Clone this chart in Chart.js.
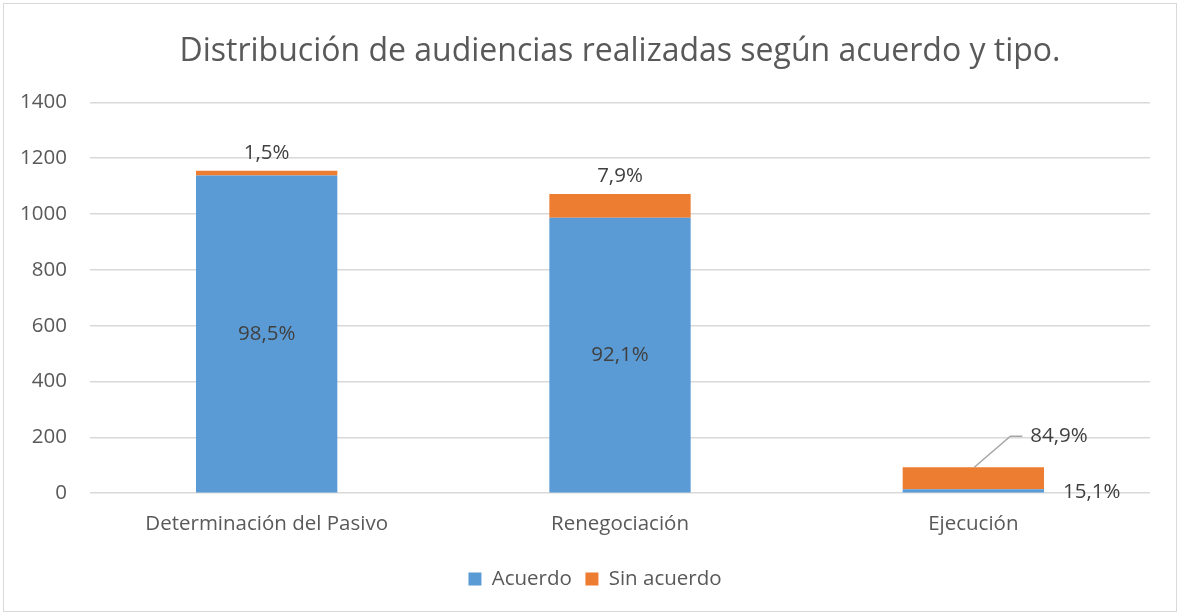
<!DOCTYPE html>
<html lang="es">
<head>
<meta charset="utf-8">
<title>Distribución de audiencias</title>
<script src="https://cdn.jsdelivr.net/npm/chart.js@4/dist/chart.umd.min.js"></script>
<style>
  html, body { margin: 0; padding: 0; background: #fff; }
  .chart-box { position: absolute; left: 0; top: 0; width: 1180px; height: 615px; }
</style>
</head>
<body>
<div class="chart-box"><canvas id="audiencias-chart" width="1180" height="615"></canvas></div>
<script>
// categories and values
const categories = ["Determinación del Pasivo", "Renegociación", "Ejecución"];
const acuerdo = [1138, 987, 14];
const sinAcuerdo = [17, 85, 79];
const acuerdoLabels = ["98,5%", "92,1%", "15,1%"];
const sinAcuerdoLabels = ["1,5%", "7,9%", "84,9%"];
const yTicks = [0, 200, 400, 600, 800, 1000, 1200, 1400];

const FONT = "'Open Sans', 'Noto Sans', sans-serif";
const SMALL = 20.5;

// light frame around the whole chart
const framePlugin = {
  id: "frame",
  beforeDraw(chart) {
    const ctx = chart.ctx;
    ctx.save();
    ctx.strokeStyle = "#d9d9d9";
    ctx.lineWidth = 1;
    ctx.strokeRect(3.5, 3.5, chart.width - 7, chart.height - 7);
    ctx.restore();
  },
};

// percentage labels on the bars
const labelPlugin = {
  id: "barLabels",
  afterDatasetsDraw(chart) {
    const ctx = chart.ctx;
    ctx.save();
    ctx.font = SMALL + "px " + FONT;
    ctx.fillStyle = "#404040";
    ctx.textBaseline = "middle";

    const blue = chart.getDatasetMeta(0).data;
    const orange = chart.getDatasetMeta(1).data;

    blue.forEach((bar, i) => {
      const h = Math.abs(bar.base - bar.y);
      if (h > 30) {
        ctx.textAlign = "center";
        ctx.fillText(acuerdoLabels[i], bar.x, (bar.y + bar.base) / 2);
      } else {
        // thin bar: label to the right of it
        ctx.textAlign = "left";
        ctx.fillText(acuerdoLabels[i], bar.x + bar.width / 2 + 19, bar.base);
      }
    });

    orange.forEach((bar, i) => {
      const blueH = Math.abs(blue[i].base - blue[i].y);
      if (blueH > 30) {
        ctx.textAlign = "center";
        ctx.fillText(sinAcuerdoLabels[i], bar.x, bar.y - 18);
      } else {
        // callout with a leader line
        const ty = bar.y - 31;
        ctx.strokeStyle = "#a6a6a6";
        ctx.lineWidth = 1.5;
        ctx.beginPath();
        ctx.moveTo(bar.x + 1, bar.y);
        ctx.lineTo(bar.x + 37, ty);
        ctx.lineTo(bar.x + 49, ty);
        ctx.stroke();
        ctx.textAlign = "left";
        ctx.fillText(sinAcuerdoLabels[i], bar.x + 57, ty);
      }
    });
    ctx.restore();
  },
};

const canvas = document.getElementById("audiencias-chart");

new Chart(canvas, {
  type: "bar",
  data: {
    labels: categories,
    datasets: [
      {
        label: "Acuerdo",
        data: acuerdo,
        backgroundColor: "#5b9bd5",
        categoryPercentage: 1,
        barPercentage: 0.4,
      },
      {
        label: "Sin acuerdo",
        data: sinAcuerdo,
        backgroundColor: "#ed7d31",
        categoryPercentage: 1,
        barPercentage: 0.4,
      },
    ],
  },
  options: {
    responsive: false,
    animation: false,
    layout: { padding: { left: 20, right: 10, top: 0, bottom: 15.7 } },
    plugins: {
      title: {
        display: true,
        fullSize: false,
        text: "Distribución de audiencias realizadas según acuerdo y tipo.",
        color: "#595959",
        font: { family: FONT, size: 32, weight: "normal" },
        padding: { top: 33, bottom: 31 },
      },
      legend: {
        position: "bottom",
        labels: {
          color: "#595959",
          font: { family: FONT, size: SMALL },
          boxWidth: 13,
          boxHeight: 13,
          padding: 13.6,
        },
      },
      tooltip: { enabled: false },
    },
    scales: {
      x: {
        stacked: true,
        grid: { display: false, drawTicks: false, tickLength: 0 },
        border: { display: false },
        ticks: {
          color: "#595959",
          font: { family: FONT, size: SMALL },
          padding: 18.7,
          maxRotation: 0,
        },
      },
      y: {
        stacked: true,
        min: 0,
        max: 1400,
        afterBuildTicks(scale) {
          scale.ticks = yTicks.map((v) => ({ value: v }));
        },
        afterFit(scale) {
          scale.width = 70;
        },
        grid: { color: "#d9d9d9", lineWidth: 1.5, drawTicks: false },
        border: { display: false },
        ticks: {
          color: "#595959",
          font: { family: FONT, size: SMALL },
          padding: 23,
          callback: (value) => String(value),
        },
      },
      // empty right-hand margin so the plot ends where the reference does
      spacer: {
        type: "linear",
        position: "right",
        display: true,
        afterFit(scale) {
          scale.width = 20;
        },
        grid: { display: false, drawTicks: false },
        border: { display: false },
        ticks: { display: false },
      },
    },
  },
  plugins: [framePlugin, labelPlugin],
});
</script>
</body>
</html>
